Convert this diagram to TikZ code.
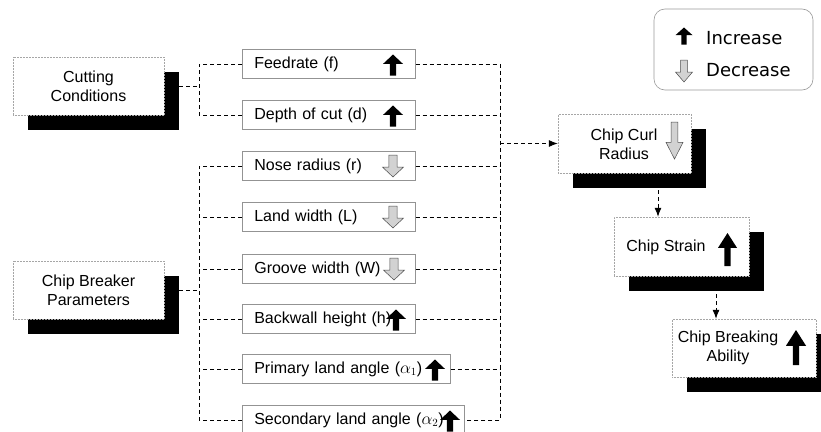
\documentclass[tikz,border=0pt]{standalone}
\usepackage{fontspec}
\setmainfont{Liberation Sans}
\newfontfamily\legendfont{DejaVu Sans}
\usetikzlibrary{shadows,arrows.meta}
\tikzset{
  conn/.style={dash pattern=on 4pt off 3pt, line width=0.8pt},
  conntip/.style={conn, -{Latex[length=9pt,width=7pt]}},
  pbox/.style={draw=gray!85, line width=0.6pt, fill=white, minimum height=29pt,
    inner xsep=12pt, inner ysep=0pt, anchor=west, text width=#1, align=left},
  bigbox/.style={draw=gray!70, densely dotted, line width=0.5pt, fill=white, inner sep=0pt, align=center,
    drop shadow={shadow xshift=15pt, shadow yshift=-15pt, fill=black, opacity=1}},
  lbl/.style={inner sep=0pt, align=center},
  legtext/.style={inner sep=0pt, anchor=west, font=\legendfont\fontsize{18}{20}\selectfont},
  uparr/.pic={\fill[black] (0,-0.5) -- (0.5,-0.05) -- (0.16,-0.05) -- (0.16,0.5) -- (-0.16,0.5) -- (-0.16,-0.05) -- (-0.5,-0.05) -- cycle;},
  dnarr/.pic={\filldraw[fill=gray!35, draw=gray!60!black, line width=0.5pt] (0,0.5) -- (0.5,0.05) -- (0.2,0.05) -- (0.2,-0.5) -- (-0.2,-0.5) -- (-0.2,0.05) -- (-0.5,0.05) -- cycle;}
}
\begin{document}
\begin{tikzpicture}[x=1pt,y=-1pt,font=\fontsize{16}{19}\selectfont]
\useasboundingbox[fill=white] (0,0) rectangle (821,431);

% junction coordinates
\coordinate (jl) at (199,0);
\coordinate (jr) at (500,0);

% parameter boxes
\node[pbox=149pt] (f)  at (242,64)  {Feedrate (f)};
\node[pbox=149pt] (d)  at (242,115) {Depth of cut (d)};
\node[pbox=149pt] (r)  at (242,166) {Nose radius (r)};
\node[pbox=149pt] (L)  at (242,217) {Land width (L)};
\node[pbox=149pt] (W)  at (242,269) {Groove width (W)};
\node[pbox=149pt] (h)  at (242,319) {Backwall height (h)};
\node[pbox=184pt] (a1) at (242,369) {Primary land angle ($\alpha_1$)};
\node[pbox=198pt] (a2) at (242,420) {Secondary land angle ($\alpha_2$)};

\pic[xscale=20,yscale=21] at (393,65)  {uparr};
\pic[xscale=20,yscale=21] at (393,116) {uparr};
\pic[xscale=21,yscale=22] at (393,166) {dnarr};
\pic[xscale=21,yscale=22] at (393,217) {dnarr};
\pic[xscale=21,yscale=22] at (394,269) {dnarr};
\pic[xscale=20,yscale=21] at (396,320) {uparr};
\pic[xscale=20,yscale=21] at (435,370) {uparr};
\pic[xscale=20,yscale=21] at (450,421) {uparr};

% source boxes
\node[bigbox, minimum width=151pt, minimum height=58pt] (cc) at (88.5,86) {Cutting\\Conditions};
\node[bigbox, minimum width=151pt, minimum height=58pt] (cb) at (88.5,290) {Chip Breaker\\Parameters};

% result boxes
\node[bigbox, minimum width=133pt, minimum height=59pt] (cr) at (624.5,143.5) {};
\node[lbl] (crt) at (624,144) {Chip Curl\\Radius};
\pic[xscale=17,yscale=37] at (674.5,140.5) {dnarr};

\node[bigbox, minimum width=135pt, minimum height=59pt] (cs) at (681.5,246.5) {};
\node[lbl] (cst) at (666,247) {Chip Strain};
\pic[xscale=19,yscale=33] at (727.5,249.5) {uparr};

\node[bigbox, minimum width=144pt, minimum height=58pt] (cba) at (744,348) {};
\node[lbl] (cbat) at (728,348) {Chip Breaking\\Ability};
\pic[xscale=20,yscale=35] at (796,347.5) {uparr};

% legend
\node[draw=gray!80, line width=0.6pt, rounded corners=11pt, minimum width=159pt, minimum height=81pt, inner sep=0pt] (leg) at (733.5,49.5) {};
\pic[xscale=17,yscale=17] at (684,36) {uparr};
\pic[xscale=17,yscale=22] at (684,71) {dnarr};
\node[legtext] (inc) at (706,38) {Increase};
\node[legtext] (dec) at (706,70) {Decrease};

% connectors: cutting conditions
\draw[conn] ([xshift=15pt]cc.east) -- (cc.east -| jl);
\draw[conn] (f.west) -- (f.west -| jl) -- (d.west -| jl) -- (d.west);

% connectors: chip breaker parameters
\draw[conn] ([xshift=15pt]cb.east) -- (cb.east -| jl);
\draw[conn] (r.west) -- (r.west -| jl) -- (a2.west -| jl) -- (a2.west);
\foreach \n in {L,W,h,a1} \draw[conn] (\n.west) -- (\n.west -| jl);

% right collector
\draw[conn] (f.east) -- (f.east -| jr) -- (a2.east -| jr) -- (a2.east);
\foreach \n in {d,r,L,W,h,a1} \draw[conn] (\n.east) -- (\n.east -| jr);
\draw[conntip] (cr.west -| jr) -- (cr.west);

% chain
\coordinate (s1) at (658,190);
\coordinate (s2) at (716,294);
\draw[conntip] (s1) -- (s1 |- cs.north);
\draw[conntip] (s2) -- (s2 |- cba.north);
\end{tikzpicture}
\end{document}
